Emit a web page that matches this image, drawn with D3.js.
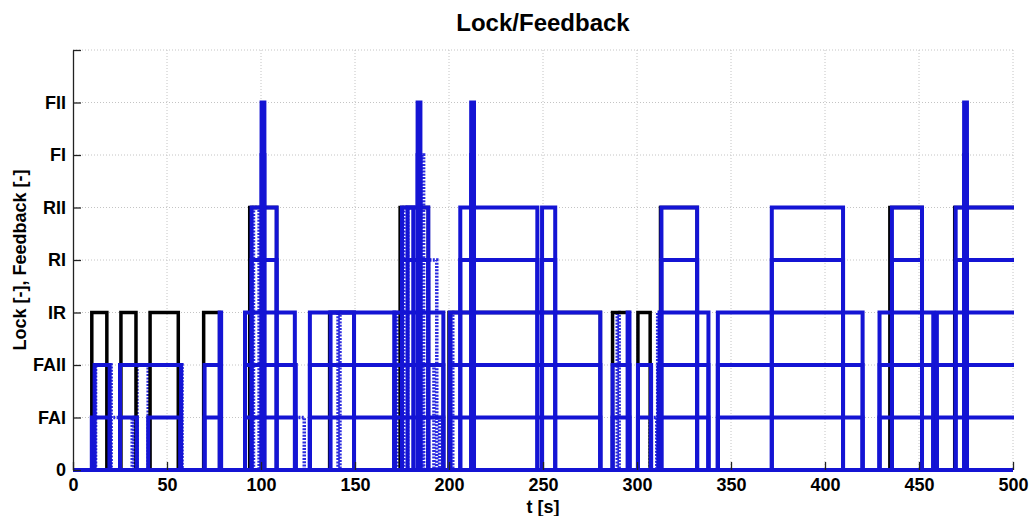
<!DOCTYPE html>
<html>
<head>
<meta charset="utf-8">
<script src="https://cdn.jsdelivr.net/npm/d3@7"></script>
<style>
  body { margin: 0; background: #fff; }
  text { font-family: "Liberation Sans", Arial, sans-serif; }
</style>
</head>
<body>
<div id="chart"></div>
<script>
// Level names on the y axis (0..8)
const levelLabels = ["0", "FAI", "FAII", "IR", "RI", "RII", "FI", "FII", ""];
const xTicks = [0, 50, 100, 150, 200, 250, 300, 350, 400, 450, 500];

// Pulses: [start t, end t, level]
const lockPulses = [
  [10, 18, 3], [25.5, 33.5, 3], [41, 56, 3], [69.5, 78, 3],
  [94, 108.3, 5], [136.5, 149.5, 3], [174, 189, 5], [200, 280.5, 3],
  [287, 295.5, 3], [300.5, 307, 3], [312.5, 332, 5],
  [434.5, 451.6, 5], [469, 502, 5]
];

const feedbackPulses = [
  [10, 19.5, 1], [11.5, 19.5, 2],
  [25, 57.5, 2], [25, 34, 1], [40, 57, 1],
  [70, 78.5, 1], [70, 78.5, 2], [78, 78.8, 3],
  [91.5, 118.5, 1], [91.5, 118.5, 2], [91.5, 118, 3],
  [95, 108.3, 4], [95, 108.3, 5], [100.3, 101.8, 6], [100.3, 101.8, 7],
  [126, 171, 1], [126, 171, 2], [126, 171, 3], [137, 149.5, 3],
  [171, 197, 1], [171, 197, 2], [171, 197, 3],
  [175, 189, 4], [175, 189, 5], [178, 181, 5],
  [183.3, 184.8, 6], [183.3, 184.8, 7],
  [200.5, 280.5, 1], [200.5, 280.5, 2], [200.5, 280.5, 3],
  [206, 247, 4], [206, 247, 5], [211.8, 213.3, 6], [211.8, 213.3, 7],
  [249.5, 256.5, 4], [249.5, 256.5, 5],
  [287, 296, 1], [287, 296, 2], [295, 296, 3],
  [300.5, 307.5, 1], [300.5, 307.5, 2],
  [311.5, 338, 1], [311.5, 338, 2], [312, 338, 3],
  [313, 332, 4], [313, 332, 5],
  [343, 420, 1], [343, 420, 2], [343, 420, 3],
  [371.7, 409.6, 4], [371.7, 409.6, 5],
  [429, 457.6, 1], [429, 457.6, 2], [429, 457.6, 3],
  [435.6, 451.6, 4], [435.6, 451.6, 5],
  [459.5, 502, 1], [459.5, 502, 2], [459.5, 502, 3],
  [469.5, 502, 4], [469.5, 502, 5], [474, 475.5, 6], [474, 475.5, 7]
];

const feedbackDotted = [
  [12, 20.3, 2], [19.5, 25, 1], [31.5, 32.5, 1], [34, 40, 2], [57, 58, 2],
  [96, 99, 5], [118, 123, 1], [141, 142, 3],
  [172, 174, 3], [176, 178, 5], [186, 192, 2], [189, 193.5, 4],
  [185, 186.5, 6], [189, 195, 1], [201, 202, 3],
  [289.5, 290.5, 3], [307, 310.5, 1], [311, 312.5, 3]
];

const margin = { top: 50, right: 17, bottom: 46, left: 73 };
const W = 1030, H = 516;
const width = W - margin.left - margin.right;
const height = H - margin.top - margin.bottom;

const svg = d3.select("#chart")
  .append("svg")
  .attr("width", W)
  .attr("height", H);

// Scales
const x = d3.scaleLinear().domain([0, 500]).range([0, width]);
const y = d3.scaleLinear().domain([0, 8]).range([height, 0]);

const g = svg.append("g")
  .attr("transform", `translate(${margin.left},${margin.top})`);

// Grid
g.append("g")
  .selectAll("line")
  .data(xTicks.slice(1))
  .enter()
  .append("line")
  .attr("x1", d => x(d)).attr("x2", d => x(d))
  .attr("y1", 0).attr("y2", height)
  .attr("stroke", "#c4c4c4")
  .attr("stroke-dasharray", "1,2");

g.append("g")
  .selectAll("line")
  .data(d3.range(1, 9))
  .enter()
  .append("line")
  .attr("x1", 0).attr("x2", width)
  .attr("y1", d => y(d)).attr("y2", d => y(d))
  .attr("stroke", "#c4c4c4")
  .attr("stroke-dasharray", "1,2");

// Clip
svg.append("defs").append("clipPath")
  .attr("id", "plot-clip")
  .append("rect")
  .attr("x", 0).attr("y", -10)
  .attr("width", width + 1).attr("height", height + 14);

const plot = g.append("g").attr("clip-path", "url(#plot-clip)");

const line = d3.line().x(d => x(d[0])).y(d => y(d[1]));
const pulsePath = p => line([[p[0], 0], [p[0], p[2]], [p[1], p[2]], [p[1], 0]]);

// Dotted feedback
plot.selectAll(".dotted")
  .data(feedbackDotted)
  .enter()
  .append("path")
  .attr("class", "dotted")
  .attr("d", pulsePath)
  .attr("fill", "none")
  .attr("stroke", "#2a2ae0")
  .attr("stroke-width", 3.5)
  .attr("stroke-dasharray", "2,1.3");

// Lock
plot.selectAll(".lock")
  .data(lockPulses)
  .enter()
  .append("path")
  .attr("class", "lock")
  .attr("d", pulsePath)
  .attr("fill", "none")
  .attr("stroke", "#000")
  .attr("stroke-width", 3.5);

// Feedback
plot.selectAll(".fb")
  .data(feedbackPulses)
  .enter()
  .append("path")
  .attr("class", "fb")
  .attr("d", pulsePath)
  .attr("fill", "none")
  .attr("stroke", "#1414d4")
  .attr("stroke-width", 4);

// Baseline
plot.append("line")
  .attr("x1", x(0)).attr("x2", x(500))
  .attr("y1", y(0)).attr("y2", y(0))
  .attr("stroke", "#1414d4")
  .attr("stroke-width", 4);

// Y axis
const yAxis = g.append("g")
  .call(d3.axisLeft(y)
    .tickValues(d3.range(0, 9))
    .tickFormat(d => levelLabels[d])
    .tickSizeInner(-8)
    .tickSizeOuter(0)
    .tickPadding(6));
yAxis.select(".domain").attr("stroke", "#222").attr("stroke-width", 1.3);
yAxis.selectAll(".tick line").attr("stroke", "#222").attr("stroke-width", 1.3);
yAxis.selectAll("text")
  .attr("font-size", "18px")
  .attr("font-weight", "bold")
  .attr("fill", "#000")
  .attr("dx", "-1");

// X axis
const xAxis = g.append("g")
  .attr("transform", `translate(0,${height})`)
  .call(d3.axisBottom(x)
    .tickValues(xTicks)
    .tickSizeInner(-8)
    .tickSizeOuter(0)
    .tickPadding(8));
xAxis.select(".domain").remove();
xAxis.selectAll(".tick line").attr("stroke", "#222").attr("stroke-width", 1.3);
xAxis.selectAll("text")
  .attr("font-size", "18px")
  .attr("font-weight", "bold")
  .attr("fill", "#000");

// Labels
svg.append("text")
  .attr("x", margin.left + width / 2)
  .attr("y", 31)
  .attr("text-anchor", "middle")
  .attr("font-size", "24px")
  .attr("font-weight", "bold")
  .text("Lock/Feedback");

svg.append("text")
  .attr("x", margin.left + width / 2)
  .attr("y", 513)
  .attr("text-anchor", "middle")
  .attr("font-size", "18px")
  .attr("font-weight", "bold")
  .text("t [s]");

svg.append("text")
  .attr("transform", `translate(26, ${margin.top + height / 2}) rotate(-90)`)
  .attr("text-anchor", "middle")
  .attr("font-size", "18px")
  .attr("font-weight", "bold")
  .text("Lock [-], Feedback [-]");
</script>
</body>
</html>
